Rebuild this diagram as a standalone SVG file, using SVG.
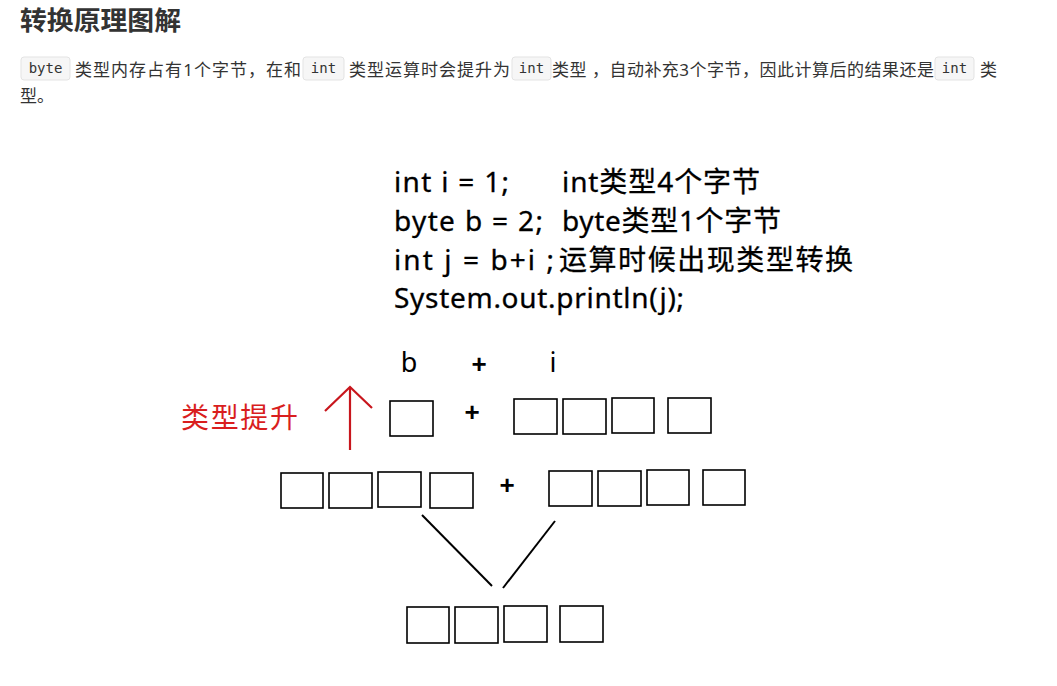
<svg xmlns="http://www.w3.org/2000/svg" width="1057" height="686" viewBox="0 0 1057 686">
<style>
.title{font-family:"Noto Sans","Noto Sans CJK SC",sans-serif;font-weight:bold;font-size:26px;fill:#333}
.p{font-family:"Noto Sans","Noto Sans CJK SC",sans-serif;font-size:17px;fill:#333}
.code{font-family:"DejaVu Sans Mono","Liberation Mono",monospace;font-size:14px;fill:#333}
.cbox{fill:#f6f6f6;stroke:#e3e3e3;stroke-width:1}
.d{font-family:"Noto Sans","Noto Sans CJK SC",sans-serif;font-size:28px;fill:#000;stroke:#000;stroke-width:0.3}
.lbl{font-family:"Noto Sans","Noto Sans CJK SC",sans-serif;font-size:27px;fill:#000}
.plus{font-family:"Liberation Sans",sans-serif;font-size:26px;font-weight:bold;fill:#000}
.red{font-family:"Noto Sans CJK SC",sans-serif;font-size:28px;fill:#d91e1e}
.b{fill:#fff;stroke:#000;stroke-width:1.6}
.ln{stroke:#000;stroke-width:2;fill:none}
.arr{stroke:#c8161d;stroke-width:2.2;fill:none}
</style>
<rect width="1057" height="686" fill="#fff"/>
<g id="header">
<text class="title" x="20" y="30" textLength="161" lengthAdjust="spacingAndGlyphs">转换原理图解</text>
<rect class="cbox" x="21" y="57" width="49" height="23" rx="3"/>
<text class="code" x="45.5" y="73" text-anchor="middle">byte</text>
<text class="p" x="75" y="76" textLength="226" lengthAdjust="spacing">类型内存占有1个字节，在和</text>
<rect class="cbox" x="303" y="57" width="41" height="23" rx="3"/>
<text class="code" x="323.5" y="73" text-anchor="middle">int</text>
<text class="p" x="349" y="76" textLength="161" lengthAdjust="spacing">类型运算时会提升为</text>
<rect class="cbox" x="512" y="57" width="39" height="23" rx="3"/>
<text class="code" x="531.5" y="73" text-anchor="middle">int</text>
<text class="p" x="552" y="76" textLength="382" lengthAdjust="spacing">类型 ，自动补充3个字节，因此计算后的结果还是</text>
<rect class="cbox" x="935" y="57" width="39" height="23" rx="3"/>
<text class="code" x="954.5" y="73" text-anchor="middle">int</text>
<text class="p" x="980" y="76">类</text>
<text class="p" x="20" y="102">型。</text>
</g>
<g id="code">
<text class="d" x="394" y="192" textLength="115" lengthAdjust="spacing">int i = 1;</text>
<text class="d" x="562" y="192" textLength="198" lengthAdjust="spacing">int类型4个字节</text>
<text class="d" x="394" y="231" textLength="149" lengthAdjust="spacing">byte b = 2;</text>
<text class="d" x="562" y="231" textLength="219" lengthAdjust="spacing">byte类型1个字节</text>
<text class="d" x="394" y="270" textLength="160" lengthAdjust="spacing">int j = b+i ;</text>
<text class="d" x="559" y="270" textLength="294" lengthAdjust="spacing">运算时候出现类型转换</text>
<text class="d" x="394" y="308" textLength="290" lengthAdjust="spacing">System.out.println(j);</text>
</g>
<g id="labels">
<text class="lbl" x="409" y="372" text-anchor="middle">b</text>
<text class="plus" x="479" y="373" text-anchor="middle">+</text>
<text class="lbl" x="553" y="372" text-anchor="middle">i</text>
</g>
<g id="promote-label">
<text class="red" x="181" y="428" textLength="117" lengthAdjust="spacing">类型提升</text>
</g>
<g id="row1">
<rect class="b" x="390" y="401" width="43" height="35"/>
<text class="plus" x="472" y="421" text-anchor="middle">+</text>
<rect class="b" x="514" y="399" width="43" height="35"/>
<rect class="b" x="563" y="399" width="43" height="35"/>
<rect class="b" x="612" y="398" width="42" height="35"/>
<rect class="b" x="668" y="398" width="43" height="35"/>
</g>
<g id="row2">
<rect class="b" x="281" y="473" width="42" height="35"/>
<rect class="b" x="329" y="473" width="43" height="35"/>
<rect class="b" x="378" y="472" width="43" height="35"/>
<rect class="b" x="430" y="473" width="43" height="35"/>
<text class="plus" x="507" y="494" text-anchor="middle">+</text>
<rect class="b" x="549" y="471" width="43" height="35"/>
<rect class="b" x="598" y="471" width="43" height="35"/>
<rect class="b" x="647" y="470" width="42" height="35"/>
<rect class="b" x="703" y="470" width="42" height="35"/>
</g>
<g id="row3">
<rect class="b" x="407" y="607" width="42" height="36"/>
<rect class="b" x="455" y="607" width="43" height="36"/>
<rect class="b" x="504" y="606" width="43" height="36"/>
<rect class="b" x="560" y="606" width="43" height="36"/>
</g>
<g id="connectors">
<line class="ln" x1="422" y1="515" x2="492" y2="586"/>
<line class="ln" x1="555" y1="521" x2="503" y2="588"/>
<line class="arr" x1="350" y1="387" x2="350" y2="450"/>
<polyline class="arr" points="325,411 350,387 372,408"/>
</g>
</svg>
